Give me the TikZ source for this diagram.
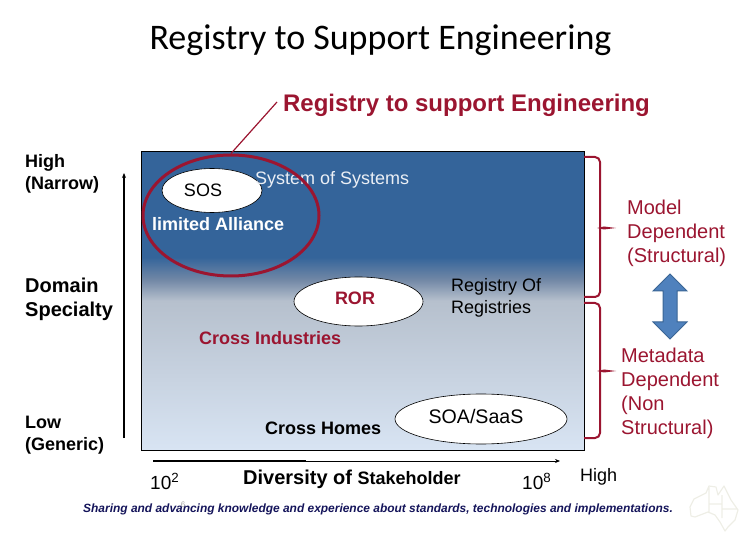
\documentclass[tikz,border=0pt]{standalone}
\usepackage{fontspec}
\setmainfont{Liberation Sans}
\newfontfamily\titlefont{Carlito}
\usetikzlibrary{positioning, calc, arrows.meta, shapes.geometric}
\definecolor{regred}{HTML}{9B1530}
\definecolor{regblue}{HTML}{34649A}
\definecolor{regmid}{HTML}{B6C0CD}
\definecolor{regtrans}{HTML}{7288A6}
\definecolor{reglight}{HTML}{D8E4F3}
\definecolor{regnavy}{HTML}{14145A}
\definecolor{ausmap}{HTML}{EEEEE6}
\definecolor{arrowfill}{HTML}{4F81BD}
\definecolor{arrowedge}{HTML}{3A6595}
\pgfdeclareverticalshading{regshade}{100bp}{color(0bp)=(reglight); color(25bp)=(reglight); color(50bp)=(regmid); color(53.5bp)=(regtrans); color(57.3bp)=(regblue); color(75bp)=(regblue); color(100bp)=(regblue)}
\tikzset{
  % Ovals and labels
  regoval/.style   = { draw=black, fill=white, ellipse, inner sep=0, line width=0.6pt },
  sidelabel/.style = { font=\fontsize{18}{22}\selectfont, align=left, anchor=north west, inner sep=0 },
  boldlabel/.style = { font=\fontsize{18}{22}\selectfont\bfseries, align=left, anchor=north west, inner sep=0 },
  redlabel/.style  = { font=\fontsize{20}{24}\selectfont, align=left, anchor=north west, inner sep=0, text=regred },
  % Brackets
  bracket/.style   = { regred, line width=2pt, rounded corners=5pt },
  brackettick/.style = { fill=regred, draw=none },
  axisline/.style  = { line width=1.4pt, -{Stealth[length=5pt,width=4pt]} }
}

\begin{document}
\begin{tikzpicture}[x=1pt,y=-1pt]
  \useasboundingbox (0,0) rectangle (756,540);

  % --- Titles ---------
  \node[font=\titlefont\fontsize{36}{38}\selectfont, inner sep=0] (title) at (380.5,40) {Registry to Support Engineering};
  \node[font=\fontsize{24}{28}\selectfont\bfseries, text=regred, inner sep=0] (callout) at (466.5,105) {Registry to support Engineering};
  \coordinate (calloutend) at (277,102);

  % --- Panel ---------
  \node[draw=black, line width=0.7pt, shading=regshade, minimum width=443pt, minimum height=298.5pt, inner sep=0] (panel) at (362.5,300.75) {};

  \node[regoval, minimum width=100pt, minimum height=44pt] (sos) at (212,190.5) {};
  \node[font=\fontsize{18}{20}\selectfont, inner sep=0] at (203,190) (soslabel) {SOS};
  \node[regoval, minimum width=129pt, minimum height=49pt] (ror) at (358.5,301.5) {};
  \node[font=\fontsize{18}{20}\selectfont\bfseries, text=regred, inner sep=0] (rorlabel) at (355,298.5) {ROR};
  \node[regoval, minimum width=172pt, minimum height=50pt] (soa) at (481,419) {};
  \node[font=\fontsize{19.6}{22}\selectfont, inner sep=0] (soalabel) at (476,416.5) {SOA/SaaS};

  \node[sidelabel, text=white!90!regblue] (syslabel) at (255,171) {System of Systems};
  \node[font=\fontsize{18}{20}\selectfont\bfseries, text=white, anchor=north west, inner sep=0] (alliance) at (152,217) {limited Alliance};
  \node[sidelabel] (regof) at (451,278) {Registry Of\\Registries};
  \node[font=\fontsize{18}{20}\selectfont\bfseries, text=regred, anchor=north west, inner sep=0] (crossind) at (199,331.5) {Cross Industries};
  \node[font=\fontsize{18}{20}\selectfont\bfseries, anchor=north west, inner sep=0] (crosshomes) at (265,421.5) {Cross Homes};

  % --- Red ring and its leader ---------
  \node[ellipse, draw=regred, line width=3pt, minimum width=176pt, minimum height=121pt, inner sep=0] (ring) at (231,215.5) {};
  \draw[regred, line width=1.2pt] (calloutend) -- (ring.north);

  % --- Left axis ---------
  \node[boldlabel] (high) at (25,154) {High\\(Narrow)};
  \node[font=\fontsize{20}{24}\selectfont\bfseries, align=left, anchor=north west, inner sep=0] (domain) at (25,278) {Domain\\Specialty};
  \node[boldlabel] (low) at (25,416) {Low\\(Generic)};
  \coordinate (vaxbot) at (124,438);
  \coordinate (vaxtop) at (124,173);
  \draw[axisline] (vaxbot) -- (vaxtop);

  % --- Bottom axis ---------
  \coordinate (haxl) at (153,461);
  \coordinate (haxm) at (306,461);
  \coordinate (haxr) at (560,461);
  \draw[line width=1.4pt] (haxl) -- (haxm);
  \draw[line width=0.7pt, -{Stealth[length=5pt,width=4pt]}] (haxm) -- (haxr);
  \node[font=\fontsize{19}{20}\selectfont, anchor=base west, inner sep=0] (lowval) at (150,489) {10\textsuperscript{2}};
  \node[font=\fontsize{20}{22}\selectfont\bfseries, anchor=base west, inner sep=0] (diversity) at (243,484) {Diversity of {\fontsize{18}{20}\selectfont Stakeholder}};
  \node[font=\fontsize{19}{20}\selectfont, anchor=base west, inner sep=0] (highval) at (522,489) {10\textsuperscript{8}};
  \node[font=\fontsize{18}{20}\selectfont, anchor=base west, inner sep=0] (highlabel) at (580,482) {High};

  % --- Brackets ---------
  \draw[bracket] (584,157) -- (600,157) -- (600,297) -- (584,297);
  \draw[bracket] (584,303) -- (600,303) -- (600,438) -- (584,438);
  \fill[brackettick] (597,228) -- (604,226.5) -- (616,228) -- (604,229.5) -- cycle;
  \fill[brackettick] (597,371) -- (604,369.5) -- (616,371) -- (604,372.5) -- cycle;
  \node[redlabel] (modeldep) at (627,200) {Model\\Dependent\\(Structural)};
  \node[redlabel] (metadep) at (621,348) {Metadata\\Dependent\\(Non\\Structural)};
  \draw[draw=arrowedge, fill=arrowfill, line width=1pt]
    (670,274) -- (687,291) -- (677,291) -- (677,322) -- (687,322) -- (670,339)
    -- (653,322) -- (663,322) -- (663,291) -- (653,291) -- cycle;

  % --- Footer ---------
  \node[font=\fontsize{11.95}{13}\selectfont\bfseries\itshape, text=regnavy, anchor=base west, inner sep=0] (footer) at (83,512) {Sharing and advancing knowledge and experience about standards, technologies and implementations.};
  \node[font=\fontsize{8}{9}\selectfont, text=gray!70, inner sep=0] (pagenum) at (183,505) {6};
  \draw[ausmap, line width=1.2pt, line join=round]
    (690,507) -- (694,499) -- (706,493) -- (709,486) -- (716,487) -- (718,495) -- (724,486) -- (731,500) -- (738,510) -- (735,520) -- (728,527) -- (725,531) -- (720,522) -- (715,515) -- (708,512) -- (695,517) -- (691,516) -- cycle
    (709,487) -- (709,504) -- (722,504) -- (722,495)
    (709,504) -- (709,513)
    (722,504) -- (722,518)
    (722,509) -- (737,509);
\end{tikzpicture}
\end{document}
